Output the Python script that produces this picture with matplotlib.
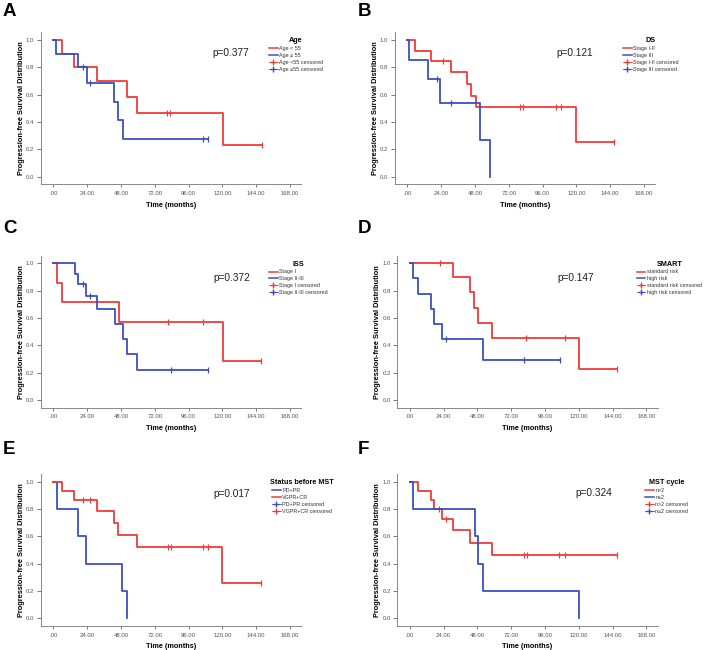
import matplotlib
matplotlib.use('Agg')
import matplotlib.pyplot as plt
from matplotlib.lines import Line2D

plt.rcParams['font.family'] = ['Liberation Sans', 'DejaVu Sans']

RED = '#f03a3a'
BLUE = '#3a4fbf'

# --- data: step times / survival (last point = end of follow-up), censor marks ---
# A  Age
a_red_t = [0, 6.4, 14.9, 31.2, 52.0, 59.2, 120.2, 147.9]
a_red_s = [1.0, 0.9, 0.8, 0.7, 0.583, 0.467, 0.233, 0.233]
a_red_ct = [80.5, 82.8, 147.9]
a_red_cs = [0.467, 0.467, 0.233]
a_blue_t = [0, 1.9, 17.3, 23.7, 43.3, 46.1, 49.2, 110.0]
a_blue_s = [1.0, 0.9, 0.8, 0.686, 0.549, 0.412, 0.275, 0.275]
a_blue_ct = [21.3, 26.0, 106.5, 110.0]
a_blue_cs = [0.8, 0.686, 0.275, 0.275]

# B  DS
b_red_t = [0, 5.4, 17.0, 30.8, 42.6, 45.4, 48.5, 119.5, 146.7]
b_red_s = [1.0, 0.923, 0.846, 0.769, 0.677, 0.592, 0.507, 0.254, 0.254]
b_red_ct = [25.6, 80.0, 82.3, 105.3, 109.3, 146.7]
b_red_cs = [0.846, 0.507, 0.507, 0.507, 0.507, 0.254]
b_blue_t = [0, 1.2, 14.7, 23.0, 51.6, 58.7, 58.7]
b_blue_s = [1.0, 0.857, 0.714, 0.536, 0.268, 0.0, 0.0]
b_blue_ct = [20.8, 30.8]
b_blue_cs = [0.714, 0.536]

# C  ISS
c_red_t = [0, 2.4, 6.4, 46.6, 120.2, 147.4]
c_red_s = [1.0, 0.857, 0.714, 0.571, 0.286, 0.286]
c_red_ct = [81.2, 106.0, 147.4]
c_red_cs = [0.571, 0.571, 0.286]
c_blue_t = [0, 15.4, 17.3, 23.2, 31.2, 43.8, 49.2, 52.0, 59.2, 110.0]
c_blue_s = [1.0, 0.923, 0.846, 0.762, 0.667, 0.556, 0.444, 0.333, 0.222, 0.222]
c_blue_ct = [21.3, 26.0, 83.3, 110.0]
c_blue_cs = [0.846, 0.762, 0.222, 0.222]

# D  SMART
d_red_t = [0, 31.0, 42.8, 45.7, 48.7, 58.7, 120.2, 147.0]
d_red_s = [1.0, 0.9, 0.788, 0.675, 0.563, 0.45, 0.225, 0.225]
d_red_ct = [21.3, 82.8, 110.0, 147.0]
d_red_cs = [1.0, 0.45, 0.45, 0.225]
d_blue_t = [0, 2.4, 5.9, 15.4, 17.3, 23.2, 52.3, 106.5]
d_blue_s = [1.0, 0.889, 0.778, 0.667, 0.556, 0.444, 0.296, 0.296]
d_blue_ct = [26.0, 81.2, 106.5]
d_blue_cs = [0.444, 0.296, 0.296]

# E  Status before MST
e_blue_t = [0, 2.4, 17.3, 23.2, 49.0, 52.0, 52.0]
e_blue_s = [1.0, 0.8, 0.6, 0.4, 0.2, 0.0, 0.0]
e_blue_ct = []
e_blue_cs = []
e_red_t = [0, 6.2, 14.7, 31.0, 43.3, 46.1, 59.2, 120.0, 147.4]
e_red_s = [1.0, 0.933, 0.867, 0.788, 0.7, 0.613, 0.525, 0.262, 0.262]
e_red_ct = [21.3, 26.0, 81.2, 83.3, 106.0, 110.0, 147.4]
e_red_cs = [0.867, 0.867, 0.525, 0.525, 0.525, 0.525, 0.262]

# F  MST cycle
f_red_t = [0, 5.9, 14.9, 17.3, 23.2, 31.0, 42.8, 58.7, 147.0]
f_red_s = [1.0, 0.933, 0.867, 0.8, 0.727, 0.646, 0.554, 0.462, 0.462]
f_red_ct = [20.8, 26.0, 81.2, 83.0, 106.0, 110.0, 147.0]
f_red_cs = [0.8, 0.727, 0.462, 0.462, 0.462, 0.462, 0.462]
f_blue_t = [0, 2.4, 46.1, 48.7, 52.3, 120.2, 120.2]
f_blue_s = [1.0, 0.8, 0.6, 0.4, 0.2, 0.0, 0.0]
f_blue_ct = []
f_blue_cs = []

x_ticks = [0, 24, 48, 72, 96, 120, 144, 168]
x_labels = ['.00', '24.00', '48.00', '72.00', '96.00', '120.00', '144.00', '168.00']
y_ticks = [0.0, 0.2, 0.4, 0.6, 0.8, 1.0]
y_labels = ['0.0', '0.2', '0.4', '0.6', '0.8', '1.0']

W, H = 708, 650
XMIN, XMAX = -9, 176
YMIN, YMAX = -0.055, 1.055


def make_axes(fig, x0px, y1px, y0px):
    # x0px: pixel of month 0, y1px / y0px: pixel rows of 1.0 and 0.0
    sx = 1.4089
    sy = y0px - y1px
    left = x0px + XMIN * sx
    width = (XMAX - XMIN) * sx
    bottom = y0px - YMIN * sy
    height = (YMAX - YMIN) * sy
    return fig.add_axes([left / W, 1 - bottom / H, width / W, height / H])


def km_panel(ax, curves, title, labels, pval, ptxt_xy, leg_xy):
    for t, s, ct, cs, col in curves:
        ax.step(t, s, where='post', color=col, lw=1.3)
        if ct:
            ax.plot(ct, cs, ls='none', marker='|', ms=5, mew=0.9, color=col)
    ax.set_xlim(XMIN, XMAX)
    ax.set_ylim(YMIN, YMAX)
    ax.set_xticks(x_ticks)
    ax.set_xticklabels(x_labels)
    ax.set_yticks(y_ticks)
    ax.set_yticklabels(y_labels)
    ax.tick_params(labelsize=4.3, labelcolor='#555555', color='#777777',
                   length=3, width=0.7, pad=1.5)
    ax.tick_params(axis='x', length=2, pad=3)
    for sp in ['top', 'right']:
        ax.spines[sp].set_visible(False)
    for sp in ['left', 'bottom']:
        ax.spines[sp].set_color('#888888')
        ax.spines[sp].set_linewidth(0.7)
    ax.set_xlabel('Time (months)', fontsize=5.2, fontweight='bold', labelpad=4)
    ax.set_ylabel('Progression-free Survival Distribution', fontsize=5.3,
                  fontweight='bold', labelpad=0.8)
    ax.text(ptxt_xy[0], ptxt_xy[1], pval, fontsize=7.3, ha='left', va='center',
            color='#222222')
    cols = [c[4] for c in curves]
    handles = [Line2D([], [], color=cols[0], lw=1.1),
               Line2D([], [], color=cols[1], lw=1.1),
               Line2D([], [], color=cols[0], lw=0.6, marker='+', ms=5),
               Line2D([], [], color=cols[1], lw=0.6, marker='+', ms=5)]
    leg = ax.legend(handles, labels, title=title, loc='upper left',
                    bbox_to_anchor=leg_xy, bbox_transform=ax.transData,
                    frameon=False, fontsize=3.9, title_fontsize=5.2,
                    handlelength=1.6, handletextpad=0.3, labelspacing=0.35,
                    borderpad=0, borderaxespad=0)
    leg.get_title().set_fontweight('bold')
    for txt in leg.get_texts():
        txt.set_color('#333333')
    leg._legend_box.align = 'center'


fig = plt.figure(figsize=(W / 100, H / 100), dpi=100)

axA = make_axes(fig, 53.3, 40.0, 176.7)
km_panel(axA, [(a_red_t, a_red_s, a_red_ct, a_red_cs, RED),
               (a_blue_t, a_blue_s, a_blue_ct, a_blue_cs, BLUE)],
         'Age', ['Age < 55', 'Age ≥ 55', 'Age <55 censored', 'Age ≥55 censored'],
         'p=0.377', (113, 0.905), (153, 1.02))

axB = make_axes(fig, 407.3, 40.0, 176.7)
km_panel(axB, [(b_red_t, b_red_s, b_red_ct, b_red_cs, RED),
               (b_blue_t, b_blue_s, b_blue_ct, b_blue_cs, BLUE)],
         'DS', ['Stage I-II', 'Stage III', 'Stage I-II censored', 'Stage III censored'],
         'p=0.121', (106, 0.905), (153, 1.02))

axC = make_axes(fig, 53.3, 263.3, 400.0)
km_panel(axC, [(c_red_t, c_red_s, c_red_ct, c_red_cs, RED),
               (c_blue_t, c_blue_s, c_blue_ct, c_blue_cs, BLUE)],
         'ISS', ['Stage I', 'Stage II-III', 'Stage I censored', 'Stage II-III censored'],
         'p=0.372', (113.5, 0.89), (153, 1.02))

axD = make_axes(fig, 409.7, 263.3, 400.0)
km_panel(axD, [(d_red_t, d_red_s, d_red_ct, d_red_cs, RED),
               (d_blue_t, d_blue_s, d_blue_ct, d_blue_cs, BLUE)],
         'SMART', ['standard risk', 'high risk', 'standard risk censored',
                   'high risk censored'],
         'p=0.147', (104.8, 0.89), (161, 1.02))

axE = make_axes(fig, 53.3, 481.7, 618.3)
km_panel(axE, [(e_blue_t, e_blue_s, e_blue_ct, e_blue_cs, BLUE),
               (e_red_t, e_red_s, e_red_ct, e_red_cs, RED)],
         'Status before MST', ['PD+PR', 'VGPR+CR', 'PD+PR censored', 'VGPR+CR censored'],
         'p=0.017', (113.6, 0.91), (154, 1.02))

axF = make_axes(fig, 409.7, 481.7, 618.3)
km_panel(axF, [(f_red_t, f_red_s, f_red_ct, f_red_cs, RED),
               (f_blue_t, f_blue_s, f_blue_ct, f_blue_cs, BLUE)],
         'MST cycle', ['n>2', 'n≤2', 'n>2 censored', 'n≤2 censored'],
         'p=0.324', (117.8, 0.915), (167, 1.02))

# panel letters
for letter, (px, py) in zip('ABCDEF', [(3, 3), (358, 3), (3, 220), (358, 220),
                                       (3, 441), (358, 441)]):
    fig.text(px / W, 1 - py / H, letter, fontsize=13.5, fontweight='bold',
             ha='left', va='top')

fig.savefig('out.png', dpi=100)
